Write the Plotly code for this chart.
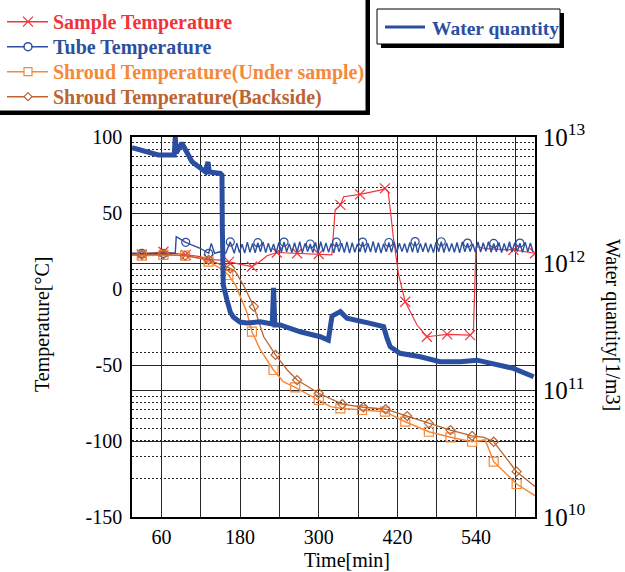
import plotly.graph_objects as go

# ---------------- data ----------------
sample_t = [15, 30, 63, 97, 119, 132, 150, 163, 198, 210, 221, 236, 267, 300, 316, 320, 325, 333, 338, 363, 394, 401,
            406, 409, 414, 422, 432, 450, 465, 496, 531, 536, 538, 540, 555, 597, 630]
sample_T = [22.8, 22.8, 24.5, 22.5, 21.3, 19.5, 19.0, 17.8, 14.7, 18.0, 21.9, 24.0, 23.5, 23.0, 22.5, 22.4, 52.0, 55.3,
            60.7, 62.3, 65.1, 66.2, 64.0, 53.0, 33.4, 9.2, -8.4, -23.7, -31.4, -29.8, -30.3, -28.0, 10.0, 28.0, 26.5,
            25.7, 23.5]
sample_mark = [1, 2, 3, 5, 7, 8, 11, 12, 13, 17, 19, 21, 26, 28, 29, 30, 35, 36]

tube_t = [15, 30, 63, 81, 82.5, 91, 97, 106, 119, 132, 136, 141, 149, 158, 165, 171,
          175, 179, 183, 187, 191, 195, 199, 203, 207, 211, 215, 219, 223, 227, 231, 235, 239, 243, 247, 251,
          255, 259, 263, 267, 271, 275, 279, 283, 287, 291, 295, 299, 303, 307, 311, 315, 319, 323, 327, 331,
          335, 339, 343, 347, 351, 355, 359, 363, 367, 371, 375, 379, 383, 387, 391, 395, 399, 403, 407, 411,
          415, 419, 423, 427, 431, 435, 439, 443, 447, 451, 455, 459, 463, 467, 471, 475, 479, 483, 487, 491,
          495, 499, 503, 507, 511, 515, 519, 523, 527, 531, 535, 539, 543, 547, 551, 555, 559, 563, 567, 571,
          575, 579, 583, 587, 591, 595, 599, 603, 607, 611, 615, 619, 623, 627]
tube_T = [23.5, 23.5, 23.5, 23.5, 34.4, 32.2, 30.7, 29.0, 26.8, 23.5, 30.0, 23.5, 24.5, 23.5, 31.0, 23.5,
          30.2, 24.0, 29.5, 23.6, 30.8, 24.2, 29.9, 23.8, 30.5, 24.4,
          31.0, 23.9, 30.1, 24.3, 29.7, 23.7, 30.6, 24.1, 30.9, 24.5,
          29.8, 23.9, 30.4, 24.2, 31.2, 23.8, 30.0, 24.6, 29.6, 24.0,
          30.7, 23.7, 31.1, 24.3, 30.3, 24.1, 29.9, 23.8, 30.8, 24.4,
          30.2, 24.0, 31.0, 23.6, 30.5, 24.2, 29.7, 24.5, 30.9, 23.9,
          30.1, 24.3, 31.3, 24.0, 30.4, 23.7, 29.8, 24.4, 30.6, 24.1,
          31.0, 23.9, 30.2, 24.6, 29.9, 24.0, 30.7, 24.3, 31.2, 23.8,
          30.0, 24.5, 30.5, 24.1, 29.6, 23.9, 30.8, 24.4, 31.1, 24.0,
          30.3, 24.7, 29.9, 24.2, 30.6, 23.8, 31.0, 24.4, 30.2, 24.6,
          29.8, 24.1, 30.9, 24.3, 30.4, 24.8, 31.2, 24.2, 30.0, 24.5,
          30.7, 24.0, 29.9, 24.6, 31.1, 24.3, 30.5, 24.7, 30.2, 24.1,
          30.8, 24.5, 30.3, 24.4]
tube_mark = [1, 2, 6, 9, 14, 24, 34, 44, 54, 64, 74, 84, 94, 104, 114, 124]

under_t = [15, 30, 63, 96, 119, 132, 150, 162, 173, 190, 198, 211, 231, 246, 264, 300, 318, 333, 366, 401, 432,
           468, 501, 534, 554, 567, 602, 630]
under_T = [22.4, 21.9, 22.4, 22.0, 20.2, 18.0, 13.6, 9.2, 2.6, -14.9, -28.1, -40.1, -53.3, -61.0, -64.7, -73.0,
           -77.4, -78.5, -79.6, -80.7, -87.3, -93.9, -97.6, -100.5, -99.3, -113.6, -128.3, -136.0]
under_mark = [1, 2, 3, 5, 7, 10, 12, 14, 15, 17, 18, 19, 20, 21, 22, 23, 25, 26]

back_t = [15, 30, 63, 96, 132, 165, 173, 185, 201, 216, 234, 252, 267, 300, 336, 368, 402, 435, 468, 501, 534, 552,
          567, 602, 630]
back_T = [22.4, 22.4, 22.8, 22.0, 19.1, 13.6, 11.4, 2.6, -11.6, -31.4, -43.4, -53.3, -59.9, -68.6, -75.7, -77.8,
          -79.1, -83.6, -88.4, -92.8, -96.7, -97.6, -100.5, -120.2, -130.0]
back_mark = [1, 2, 3, 4, 5, 8, 10, 12, 13, 14, 15, 16, 17, 18, 19, 20, 22, 23]

water_t = [15, 35, 55, 79.5, 81, 82.6, 91, 106.6, 127, 131, 133, 149.7, 152.3, 152.8, 154.3, 160, 165, 169.6, 179.8,
           190.5, 210.8, 229, 231, 233, 241.3, 271.8, 302.3, 314.6, 320.2, 333, 343, 378.6, 399, 404, 409, 424, 455,
           485, 516, 541.5, 567, 597, 628]
water_W = [8.24e12, 7.66e12, 7.21e12, 7.21e12, 1.0e13, 7.48e12, 8.97e12, 6.38e12, 5.32e12, 6.35e12, 5.30e12,
           5.16e12, 5.0e12, 2.02e12, 6.79e11, 5.16e11, 4.15e11, 3.79e11, 3.46e11, 3.40e11, 3.48e11, 3.34e11, 6.43e11,
           3.28e11, 3.28e11, 2.90e11, 2.65e11, 2.49e11, 3.86e11, 4.18e11, 3.71e11, 3.38e11, 3.18e11, 2.59e11,
           2.21e11, 1.96e11, 1.84e11, 1.68e11, 1.68e11, 1.73e11, 1.63e11, 1.49e11, 1.28e11]

x_tick_vals = [60, 180, 300, 420, 540]
x_tick_text = ["60", "180", "300", "420", "540"]
x_grid_step = 60
y_tick_vals = [-150, -100, -50, 0, 50, 100]
y_tick_text = ["-150", "-100", "-50", "0", "50", "100"]

names = ["Sample Temperature", "Tube Temperature", "Shroud Temperature(Under sample)",
         "Shroud Temperature(Backside)"]
water_name = "Water quantity"

# ---------------- style ----------------
FONT = "Liberation Serif"
C_SAMPLE = "#f0343c"
C_TUBE = "#2c4f9e"
C_UNDER = "#f5883a"
C_BACK = "#bb6430"
C_WATER = "#2a4ea0"
GRID = "#262626"

W, H = 625, 572
ML, MR, MT, MB = 132, 90, 137, 55
PW, PH = W - ML - MR, H - MT - MB


def px2x(px):
    return (px - ML) / PW


def py2y(py):
    return (H - MB - py) / PH


fig = go.Figure()

series = [
    (sample_t, sample_T, sample_mark, names[0], C_SAMPLE, "x-thin-open", 10, 1.2),
    (tube_t, tube_T, tube_mark, names[1], C_TUBE, "circle-open", 8, 1.4),
    (under_t, under_T, under_mark, names[2], C_UNDER, "square-open", 9, 1.5),
    (back_t, back_T, back_mark, names[3], C_BACK, "diamond-open", 7, 1.3),
]

for t, v, mk, nm, col, sym, ms, lw in series:
    fig.add_trace(go.Scatter(x=t, y=v, mode="lines", line=dict(color=col, width=lw),
                             showlegend=False, hoverinfo="skip", name=nm))
    fig.add_trace(go.Scatter(x=[t[i] for i in mk], y=[v[i] for i in mk], mode="markers",
                             marker=dict(symbol=sym, size=ms, color=col, line=dict(color=col, width=1.2)),
                             showlegend=False, hoverinfo="skip", name=nm))

fig.add_trace(go.Scatter(x=water_t, y=water_W, mode="lines", yaxis="y2", name=water_name,
                         line=dict(color=C_WATER, width=5), showlegend=False, hoverinfo="skip"))

axis_font = dict(family=FONT, size=20, color="black")

fig.update_layout(
    width=W, height=H,
    margin=dict(l=ML, r=MR, t=MT, b=MB, autoexpand=False),
    paper_bgcolor="white", plot_bgcolor="white",
    font=dict(family=FONT, size=20, color="black"),
    showlegend=False,
    xaxis=dict(range=[15, 630], tickmode="array", tickvals=x_tick_vals, ticktext=x_tick_text,
               showgrid=True, gridcolor=GRID, gridwidth=1, zeroline=False,
               minor=dict(tick0=0, dtick=x_grid_step, showgrid=True, gridcolor=GRID, gridwidth=1),
               showline=True, linecolor="black", linewidth=1.5, mirror=True,
               ticks="", tickfont=axis_font, ticklabelstandoff=1),
    yaxis=dict(range=[-150, 100], tickmode="array", tickvals=y_tick_vals, ticktext=y_tick_text,
               showgrid=True, gridcolor=GRID, gridwidth=1.2, zeroline=False,
               showline=True, linecolor="black", linewidth=1.5, mirror=True,
               ticks="", tickfont=axis_font, ticklabelstandoff=4),
    yaxis2=dict(type="log", range=[10, 13], overlaying="y", side="right", dtick=1,
                exponentformat="power", showgrid=True, gridcolor=GRID, gridwidth=1.2,
                minor=dict(showgrid=True, gridcolor=GRID, griddash="2px,2px", gridwidth=1, dtick="D1"),
                showline=True, linecolor="black", linewidth=1.5,
                ticks="", tickfont=axis_font, ticklabelstandoff=2),
)

# ---------------- hand-drawn legends ----------------
shapes = []


def rect_px(x0, y0, x1, y1, **kw):
    return dict(type="rect", xref="paper", yref="paper",
                x0=px2x(x0), x1=px2x(x1), y0=py2y(y1), y1=py2y(y0), **kw)


def line_px(x0, y0, x1, y1, color, width):
    return dict(type="line", xref="paper", yref="paper",
                x0=px2x(x0), x1=px2x(x1), y0=py2y(y0), y1=py2y(y1),
                line=dict(color=color, width=width), layer="above")


for (x0, y0, x1, y1) in [(-4, -4, 366, 111), (377, 9, 560, 44)]:
    shapes.append(rect_px(x0 + 4, y0 + 4, x1 + 4, y1 + 4, fillcolor="black", line=dict(width=0), layer="above"))
    shapes.append(rect_px(x0, y0, x1, y1, fillcolor="white", line=dict(color="black", width=1), layer="above"))

legend_rows = [21.7, 46.7, 71.7, 96.7]
legend_colors = [C_SAMPLE, C_TUBE, C_UNDER, C_BACK]
legend_symbols = ["x", "circle", "square", "diamond"]
MX = 28
for yy, col, sym in zip(legend_rows, legend_colors, legend_symbols):
    shapes.append(line_px(7, yy, 48, yy, col, 1.5))
    if sym == "x":
        shapes.append(line_px(MX - 5, yy - 5, MX + 5, yy + 5, col, 1.2))
        shapes.append(line_px(MX - 5, yy + 5, MX + 5, yy - 5, col, 1.2))
    elif sym == "circle":
        shapes.append(dict(type="circle", xref="paper", yref="paper",
                           x0=px2x(MX - 4), x1=px2x(MX + 4), y0=py2y(yy + 4), y1=py2y(yy - 4),
                           line=dict(color=col, width=1.5), fillcolor="white", layer="above"))
    elif sym == "square":
        shapes.append(rect_px(MX - 4, yy - 4, MX + 4, yy + 4, line=dict(color=col, width=1.2),
                              fillcolor="white", layer="above"))
    else:
        pts = [(MX, yy - 4), (MX + 4, yy), (MX, yy + 4), (MX - 4, yy)]
        path = "M " + " L ".join(f"{px2x(a)},{py2y(b)}" for a, b in pts) + " Z"
        shapes.append(dict(type="path", xref="paper", yref="paper", path=path,
                           line=dict(color=col, width=1.2), fillcolor="white", layer="above"))

shapes.append(line_px(385, 27, 425, 27, C_WATER, 3))
fig.update_layout(shapes=shapes)

for yy, col, nm in zip(legend_rows, legend_colors, names):
    fig.add_annotation(text=nm, xref="paper", yref="paper", x=px2x(51), y=py2y(yy + 0.5),
                       xanchor="left", yanchor="middle", showarrow=False,
                       font=dict(family=FONT, size=20, weight="bold", color=col))
fig.add_annotation(text=water_name, xref="paper", yref="paper", x=px2x(430), y=py2y(28),
                   xanchor="left", yanchor="middle", showarrow=False,
                   font=dict(family=FONT, size=19.5, weight="bold", color=C_WATER))

# ---------------- axis titles ----------------
fig.add_annotation(text="Temperature[°C]", xref="paper", yref="paper", x=px2x(42), y=py2y(325),
                   xanchor="center", yanchor="middle", textangle=-90, showarrow=False, font=axis_font)
fig.add_annotation(text="Water quantity[1/m3]", xref="paper", yref="paper", x=px2x(613), y=py2y(325),
                   xanchor="center", yanchor="middle", textangle=90, showarrow=False, font=axis_font)
fig.add_annotation(text="Time[min]", xref="paper", yref="paper", x=px2x(347), y=py2y(560),
                   xanchor="center", yanchor="middle", showarrow=False, font=axis_font)

fig.write_html("out.html")
